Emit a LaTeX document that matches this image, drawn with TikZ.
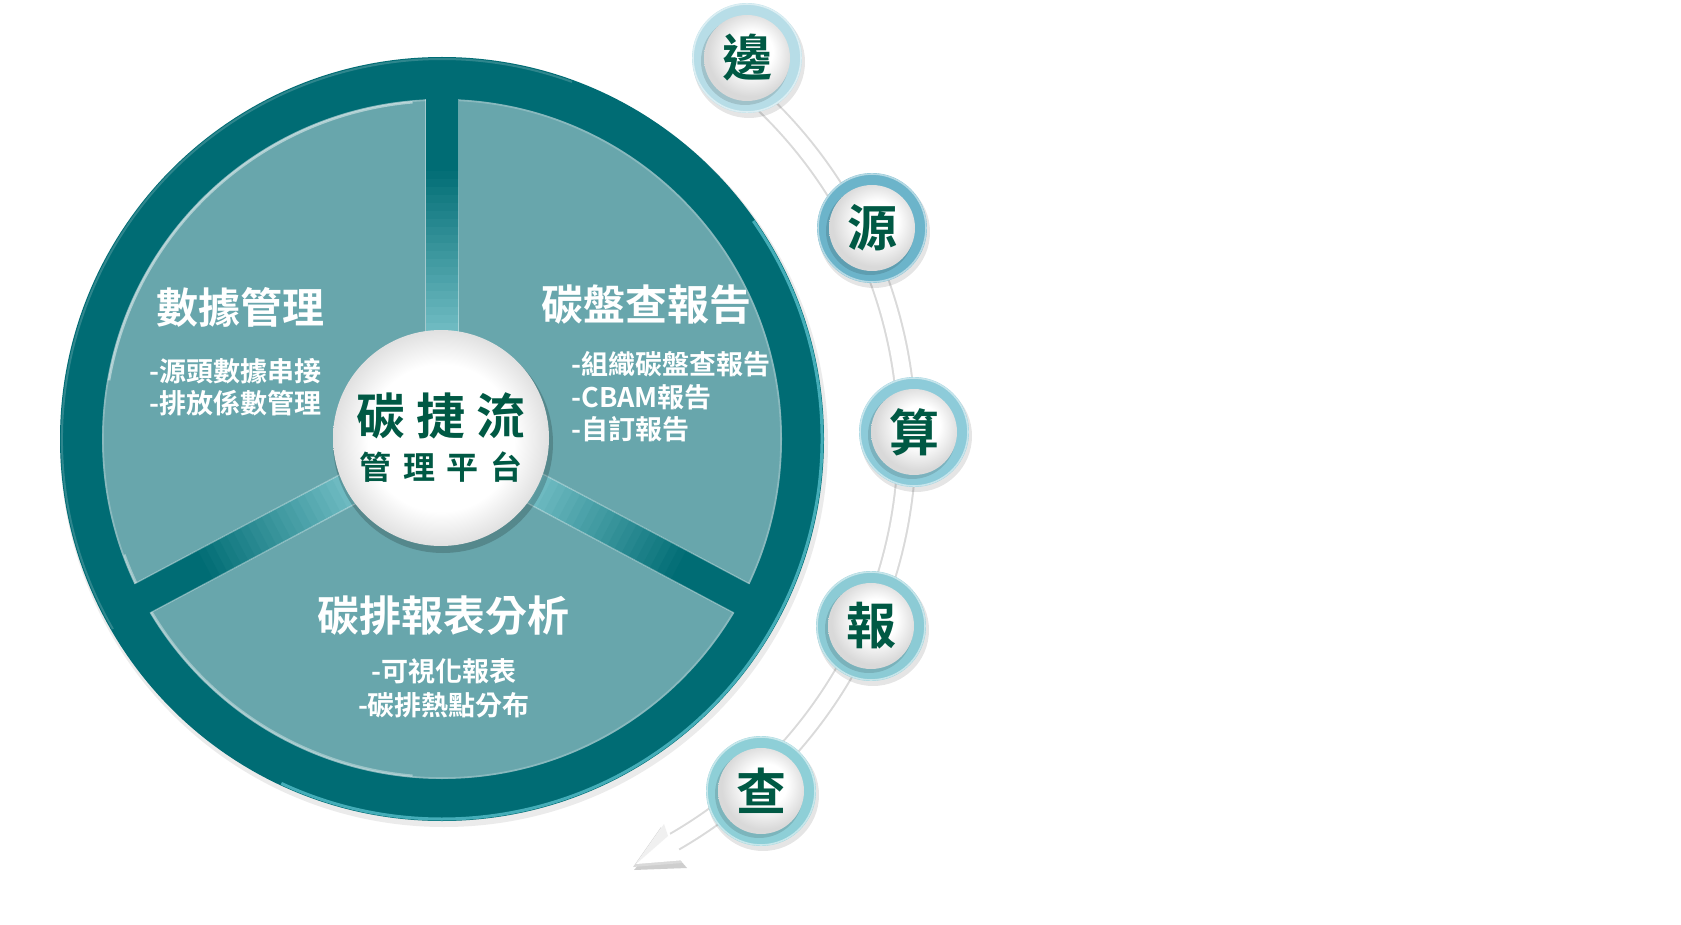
\documentclass[tikz,border=0pt]{standalone}
\usepackage{fontspec}
\newfontfamily\cjk{Noto Sans CJK TC}[BoldFont={Noto Sans CJK TC Bold}]
\usetikzlibrary{calc}
\definecolor{ringdark}{HTML}{006C74}
\definecolor{sectorfill}{HTML}{68A6AC}
\definecolor{spokelight}{HTML}{74BEC5}
\definecolor{textgreen}{HTML}{005944}
\definecolor{rimlight}{HTML}{5CC4CF}
\definecolor{bandgray}{HTML}{DADADA}
\definecolor{ringA}{HTML}{B7DDE7}
\definecolor{ringB}{HTML}{6CB4CA}
\definecolor{ringC}{HTML}{8DCBD9}
\definecolor{ringD}{HTML}{8CCBD5}
\definecolor{ringE}{HTML}{8ECFD7}
\pgfdeclareradialshading{centerball}{\pgfpoint{0bp}{0bp}}{color(0bp)=(white); color(17bp)=(white); color(25bp)=(black!12); color(50bp)=(black!12)}
\pgfdeclareradialshading{smallball}{\pgfpoint{4bp}{5bp}}{color(0bp)=(white); color(12bp)=(white); color(25bp)=(black!15); color(50bp)=(black!15)}
\begin{document}
\begin{tikzpicture}[x=0.5pt,y=-0.5pt,
  titletext/.style={text=white, font=\cjk\bfseries\fontsize{21pt}{25pt}\selectfont, inner sep=0pt},
  itemtext/.style={text=white, font=\cjk\bfseries\fontsize{13.5pt}{16pt}\selectfont, inner sep=0pt},
  bubbletext/.style={text=textgreen, font=\cjk\bfseries\fontsize{25pt}{28pt}\selectfont, inner sep=0pt},
  hubtext/.style={text=textgreen, font=\cjk\bfseries\fontsize{24.5pt}{28pt}\selectfont, inner sep=0pt},
  hubsub/.style={text=textgreen, font=\cjk\bfseries\fontsize{16pt}{18pt}\selectfont, inner sep=0pt},
  spokeline/.style={line width=16.5pt},
]
\useasboundingbox[fill=white] (0,0) rectangle (1681,925);
\coordinate (C) at (442,439);

% ---- curved band with arrow ----
\fill[black!35, opacity=.55] (634,870) -- (687,868) -- (680,860) -- (640,863) -- cycle;
\begin{scope}[shift={(-3,3)}]
  \draw[bandgray, line width=10pt] ([shift={(-52:465)}]C) arc[start angle=-52, end angle=60, radius=465];
  \fill[bandgray] (636,864) -- (685,860) -- (664,824) -- cycle;
\end{scope}
\draw[white, line width=8pt] ([shift={(-52:465)}]C) arc[start angle=-52, end angle=60.5, radius=465];
\coordinate (tip) at (636,864);
\fill[white] (tip) -- (685,860) -- (664,824) -- cycle;
\fill[black!6] (tip) -- (664,824) -- (668,836) -- cycle;

% ---- big wheel ----
\fill[black, opacity=.08] ($(C)+(2,4)$) circle[radius=384];
\fill[ringdark] (C) circle[radius=382];
\draw[rimlight, opacity=.75, line width=1.5pt] ([shift={(-35:380)}]C) arc[start angle=-35, end angle=115, radius=380];
\draw[white, opacity=.18, line width=1pt] ([shift={(150:380)}]C) arc[start angle=150, end angle=290, radius=380];
\fill[sectorfill] (C) circle[radius=340];
\draw[white, opacity=.22, line width=0.8pt] (C) circle[radius=339];
\draw[white, opacity=.45, line width=1.2pt] ([shift={(190:338)}]C) arc[start angle=190, end angle=265, radius=338];
\draw[white, opacity=.35, line width=1.2pt] ([shift={(160:338)}]C) arc[start angle=160, end angle=95, radius=338];

% spokes
\foreach \a in {-90,28,152}{
  \draw[ringdark, spokeline] (C) -- ($(C)+(\a:346)$);
  \foreach \i in {0,...,21}{
    \pgfmathsetmacro{\ra}{100+\i*8}
    \pgfmathsetmacro{\rb}{\ra+9}
    \pgfmathtruncatemacro{\p}{100-\i*100/21}
    \draw[spokelight!\p!ringdark, spokeline] ($(C)+(\a:\ra)$) -- ($(C)+(\a:\rb)$);
  }
  \draw[white, opacity=.4, line width=0.6pt] ($(C)+(\a:105)+(\a+90:16.5)$) -- ($(C)+(\a:339.5)+(\a+90:16.5)$);
  \draw[white, opacity=.4, line width=0.6pt] ($(C)+(\a:105)+(\a-90:16.5)$) -- ($(C)+(\a:339.5)+(\a-90:16.5)$);
}

% hub
\fill[black, opacity=.18] ($(C)+(1,4)$) circle[radius=110];
\shade[shading=centerball] ($(C)+(-1,-1)$) circle[radius=108];
\node[hubtext] (hub) at (441,416) {碳\hspace{5.5pt}捷\hspace{5.5pt}流};
\node[hubsub] (hubsub) at (441,467) {管\hspace{5.8pt}理\hspace{5.8pt}平\hspace{5.8pt}台};

% sector texts
\node[titletext] (t1) at (240,307) {數據管理};
\node[itemtext, anchor=west, align=left] (i1) at (149,387) {-源頭數據串接\\-排放係數管理};
\node[titletext] (t2) at (646,305) {碳盤查報告};
\node[itemtext, anchor=west, align=left, font=\cjk\bfseries\fontsize{13.5pt}{16.25pt}\selectfont] (i2) at (571,397) {-組織碳盤查報告\\-CBAM報告\\-自訂報告};
\node[titletext] (t3) at (443,616) {碳排報表分析};
\node[itemtext, align=center, font=\cjk\bfseries\fontsize{13.5pt}{17pt}\selectfont] (i3) at (444,688) {-可視化報表\\-碳排熱點分布};

% ---- step bubbles ----
\foreach \n/\x/\y/\c/\col in {bian/747/58/邊/ringA, yuan/872/228/源/ringB, suan/914/432/算/ringC, bao/871/626/報/ringD, cha/761/791/查/ringE}{
  \fill[black, opacity=.10] (\x+2,\y+4) circle[radius=56];
  \fill[\col] (\x,\y) circle[radius=55];
  \draw[white, opacity=.5, line width=0.8pt] (\x,\y) circle[radius=54];
  \fill[black, opacity=.12] (\x-2,\y+3) circle[radius=44];
  \shade[shading=smallball] (\x,\y) circle[radius=43];
  \node[bubbletext] (\n) at (\x,\y) {\c};
}
\end{tikzpicture}
\end{document}
